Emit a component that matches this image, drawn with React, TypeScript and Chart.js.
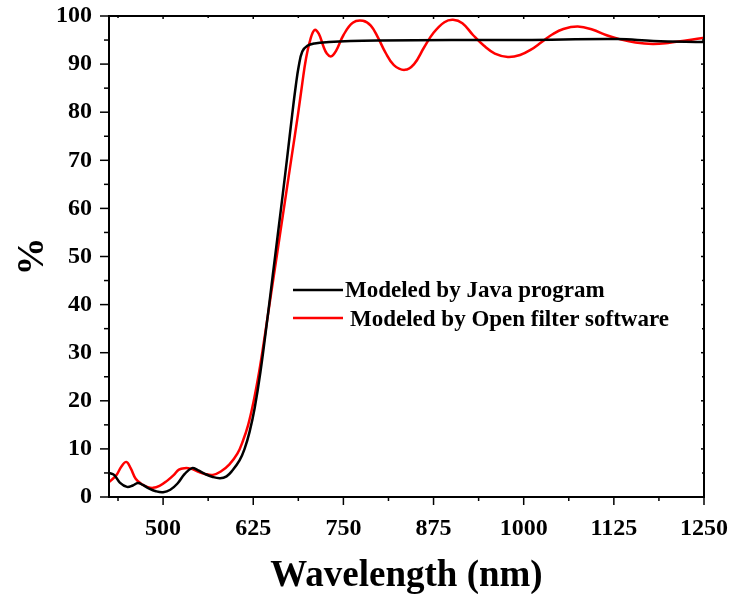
import React, { useEffect, useRef } from "react";
import { Chart, registerables } from "chart.js";

Chart.register(...registerables);

// Black: Modeled by Java program
const javaWavelengths = [425, 432, 440, 450, 458, 465, 472, 480, 490, 500, 510, 520, 530, 540, 548, 558, 568, 579, 588, 596, 606, 613, 620, 627, 635, 645, 652, 659, 666, 672, 679, 684, 688, 693, 700, 710, 730, 760, 800, 900, 1000, 1130, 1180, 1250];
const javaValues = [5.0, 4.6, 3.0, 2.1, 2.4, 2.9, 2.5, 1.8, 1.2, 1.0, 1.5, 2.8, 4.8, 6.0, 5.6, 4.8, 4.2, 3.9, 4.3, 5.5, 7.6, 10.0, 13.6, 18.5, 26, 37.5, 46, 54.5, 63, 70.5, 79.5, 85.5, 89.5, 92.6, 93.8, 94.3, 94.6, 94.8, 94.9, 95.0, 95.0, 95.2, 94.8, 94.6];

// Red: Modeled by Open filter software
const openWavelengths = [425, 435, 442, 449, 455, 462, 470, 478, 486, 495, 505, 515, 522, 530, 538, 548, 558, 569, 580, 592, 603, 611, 618, 625, 632, 638, 646, 655, 662, 670, 678, 687, 693, 698, 704, 710, 716, 722, 727, 733, 740, 750, 763, 777, 788, 798, 808, 820, 835, 848, 862, 875, 890, 902, 915, 930, 945, 960, 978, 995, 1010, 1025, 1040, 1055, 1075, 1095, 1115, 1133, 1155, 1179, 1200, 1225, 1250];
const openValues = [3.1, 4.5, 6.3, 7.3, 6.0, 3.8, 2.7, 2.1, 1.9, 2.3, 3.3, 4.6, 5.7, 6.0, 5.9, 5.3, 4.8, 4.6, 5.3, 6.8, 9.0, 11.8, 15.0, 19.5, 25.0, 30.5, 38.5, 47.5, 54.5, 62.5, 70.5, 79.5, 86, 91, 95, 97.1, 96.3, 93.8, 92.2, 91.6, 92.8, 96, 98.6, 99.0, 98, 95.5, 92.5, 89.8, 88.8, 90, 93.5, 96.5, 98.7, 99.2, 98.5, 96, 93.8, 92.2, 91.5, 91.9, 93, 94.6, 96.2, 97.3, 97.8, 97.2, 96.0, 95.2, 94.5, 94.2, 94.4, 94.9, 95.5];

const xMajorTicks = [500, 625, 750, 875, 1000, 1125, 1250];
const xMinorTicks = [437.5, 562.5, 687.5, 812.5, 937.5, 1062.5, 1187.5];
const yMajorTicks = [0, 10, 20, 30, 40, 50, 60, 70, 80, 90, 100];
const yMinorTicks = [5, 15, 25, 35, 45, 55, 65, 75, 85, 95];

const legendLabels = ["Modeled by Java program", "Modeled by Open filter software"];
const seriesColors = ["#000000", "#ff0000"];

const SERIF = "'Liberation Serif', 'Times New Roman', serif";

const framePlugin = {
  id: "frameTicks",
  afterDatasetsDraw(chart: any) {
    const { ctx, chartArea: a, scales } = chart;
    const x = scales.x;
    const y = scales.y;
    ctx.save();
    ctx.strokeStyle = "#000";
    const seg = (x1: number, y1: number, x2: number, y2: number) => {
      ctx.beginPath();
      ctx.moveTo(x1, y1);
      ctx.lineTo(x2, y2);
      ctx.stroke();
    };
    ctx.lineWidth = 1.5;
    for (const v of xMajorTicks) {
      const p = x.getPixelForValue(v);
      seg(p, a.bottom, p, a.bottom + 8);
      seg(p, a.top, p, a.top + 3);
    }
    for (const v of xMinorTicks) {
      const p = x.getPixelForValue(v);
      seg(p, a.bottom, p, a.bottom + 4);
      seg(p, a.top, p, a.top + 2);
    }
    for (const v of yMajorTicks) {
      const p = y.getPixelForValue(v);
      seg(a.left - 9, p, a.left, p);
      seg(a.right - 3, p, a.right, p);
    }
    for (const v of yMinorTicks) {
      const p = y.getPixelForValue(v);
      seg(a.left - 5, p, a.left, p);
      seg(a.right - 2, p, a.right, p);
    }
    ctx.lineWidth = 2;
    ctx.strokeRect(a.left, a.top, a.right - a.left, a.bottom - a.top);

    // legend
    const rows = [
      { y: 290, text: 345, base: 297 },
      { y: 318, text: 350, base: 326 },
    ];
    ctx.font = `bold 23px ${SERIF}`;
    ctx.textBaseline = "alphabetic";
    ctx.textAlign = "left";
    rows.forEach((r, i) => {
      ctx.strokeStyle = seriesColors[i];
      ctx.lineWidth = 2.5;
      seg(293, r.y, 343, r.y);
      ctx.fillStyle = "#000";
      ctx.fillText(legendLabels[i], r.text, r.base);
    });
    ctx.restore();
  },
};

export default function App() {
  const ref = useRef<HTMLCanvasElement | null>(null);
  useEffect(() => {
    document.body.style.margin = "0";
    const canvas = ref.current;
    if (!canvas) return;
    const lineDefaults = {
      borderWidth: 2.5,
      pointRadius: 0,
      tension: 0.4,
      fill: false,
    };
    const chart = new Chart(canvas, {
      type: "line",
      data: {
        datasets: [
          {
            ...lineDefaults,
            label: legendLabels[0],
            data: javaWavelengths.map((w, i) => ({ x: w, y: javaValues[i] })),
            borderColor: seriesColors[0],
          },
          {
            ...lineDefaults,
            label: legendLabels[1],
            data: openWavelengths.map((w, i) => ({ x: w, y: openValues[i] })),
            borderColor: seriesColors[1],
          },
        ],
      },
      options: {
        responsive: false,
        animation: false,
        devicePixelRatio: 1,
        layout: { padding: { top: 16, right: 25, left: 0, bottom: -5 } },
        plugins: { legend: { display: false }, tooltip: { enabled: false } },
        scales: {
          x: {
            type: "linear",
            min: 425,
            max: 1250,
            afterBuildTicks: (s: any) => {
              s.ticks = xMajorTicks.map((v) => ({ value: v }));
            },
            afterFit: (s: any) => {
              s.height = 102;
              s.paddingLeft = 0;
              s.paddingRight = 0;
            },
            grid: { display: false, drawTicks: false },
            border: { display: false },
            ticks: {
              padding: 17,
              color: "#000",
              maxRotation: 0,
              autoSkip: false,
              callback: (v: any) => String(v),
              font: { family: SERIF, size: 24, weight: "bold" },
            },
            title: {
              display: true,
              text: "Wavelength (nm)",
              color: "#000",
              padding: { top: 0, bottom: 0 },
              font: { family: SERIF, size: 37, weight: "bold" },
            },
          },
          y: {
            type: "linear",
            min: 0,
            max: 100,
            afterBuildTicks: (s: any) => {
              s.ticks = yMajorTicks.map((v) => ({ value: v }));
            },
            afterFit: (s: any) => {
              s.width = 109;
              s.paddingTop = 0;
              s.paddingBottom = 0;
            },
            grid: { display: false, drawTicks: false },
            border: { display: false },
            ticks: {
              padding: 17,
              color: "#000",
              autoSkip: false,
              callback: (v: any) => String(v),
              font: { family: SERIF, size: 24, weight: "bold" },
            },
            title: {
              display: true,
              text: "%",
              color: "#000",
              padding: { top: 10, bottom: 0 },
              font: { family: SERIF, size: 38, weight: "bold" },
            },
          },
        },
      },
      plugins: [framePlugin],
    } as any);
    return () => chart.destroy();
  }, []);
  return <canvas ref={ref} width={729} height={594} style={{ display: "block" }} />;
}
